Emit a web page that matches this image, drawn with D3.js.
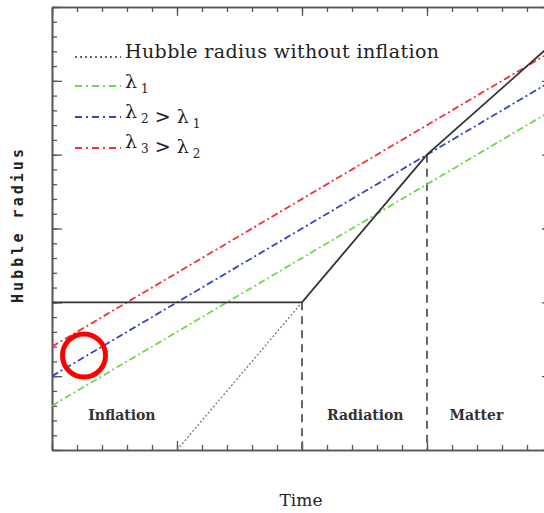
<!DOCTYPE html>
<html>
<head>
<meta charset="utf-8">
<script src="https://cdn.jsdelivr.net/npm/d3@7"></script>
<style>
  html, body { margin: 0; padding: 0; background: #fff; }
  svg { display: block; }
</style>
</head>
<body>
<div id="chart"></div>
<script>
// Log-time vs log-Hubble-radius sketch: three comoving wavelengths against the Hubble radius
const xDomain = [0, 20];
const yDomain = [0, 30];

// Hubble radius: constant during inflation, then radiation era, then matter era
const hubbleX = [0, 10, 15, 20];
const hubbleY = [10, 10, 20, 27.5];

// Hubble radius extrapolated back without inflation
const noInflationX = [5, 10];
const noInflationY = [0, 10];

// Wavelengths grow with slope 1; values at the two ends of the time axis
const waveX = [0, 20];
const lambda1 = [3, 23];
const lambda2 = [5, 25];
const lambda3 = [7, 27];

// Era boundaries (vertical dashed markers) and era names
const eraBoundaryX = [10, 15];
const eraBoundaryY = [10, 20];
const eraNames = ["Inflation", "Radiation", "Matter"];
const eraLabelX = [1.45, 11.0, 15.9];

// Highlighted point
const markX = [1.28];
const markY = [6.4];

const W = 544, H = 513;
const margin = { left: 52, right: -8, top: 7, bottom: 63 };

const svg = d3.select("#chart").append("svg")
  .attr("width", W).attr("height", H);

const x = d3.scaleLinear().domain(xDomain).range([margin.left, W - margin.right]);
const y = d3.scaleLinear().domain(yDomain).range([H - margin.bottom, margin.top]);

const axisColor = "#555";
const defs = svg.append("defs");
defs.append("clipPath").attr("id", "plot")
  .append("rect")
  .attr("x", x(xDomain[0])).attr("y", y(yDomain[1]))
  .attr("width", x(xDomain[1]) - x(xDomain[0]))
  .attr("height", y(yDomain[0]) - y(yDomain[1]));

// Axes with major and minor ticks on all four sides
function styleAxis(g) {
  g.selectAll("path").attr("stroke", axisColor).attr("stroke-width", 1.6);
  g.selectAll("line").attr("stroke", axisColor).attr("stroke-width", 1.3);
  g.selectAll("text").remove();
}
const xMinor = d3.range(0, 20.01, 1);
const xMajor = d3.range(0, 20.01, 5);
const yMinor = d3.range(0, 30.01, 1);
const yMajor = d3.range(0, 30.01, 5);

function addAxis(axisFn, scale, transform, minor, major, minorLen, majorLen) {
  svg.append("g").attr("transform", transform)
    .call(axisFn(scale).tickValues(minor).tickSize(-minorLen).tickSizeOuter(0))
    .call(styleAxis);
  svg.append("g").attr("transform", transform)
    .call(axisFn(scale).tickValues(major).tickSize(-majorLen).tickSizeOuter(0))
    .call(styleAxis);
}
addAxis(d3.axisBottom, x, `translate(0,${y(0)})`, xMinor, xMajor, 5, 9);
addAxis(d3.axisTop, x, `translate(0,${y(30)})`, xMinor, xMajor, 5, 9);
addAxis(d3.axisLeft, y, `translate(${x(0)},0)`, yMinor, yMajor, 5, 10);
addAxis(d3.axisRight, y, `translate(${x(20)},0)`, yMinor, yMajor, 5, 10);

const plot = svg.append("g").attr("clip-path", "url(#plot)");
const line = d3.line().x(d => x(d[0])).y(d => y(d[1]));

// Era boundary markers
eraBoundaryX.forEach((bx, i) => {
  plot.append("path")
    .attr("d", line([[bx, eraBoundaryY[i]], [bx, 0]]))
    .attr("fill", "none").attr("stroke", "#666")
    .attr("stroke-width", 2).attr("stroke-dasharray", "8,6");
});

// Wavelength lines
const dashDot = "7,3,2,3";
const waves = [
  { vals: lambda1, color: "#6fd84a" },
  { vals: lambda2, color: "#3445c0" },
  { vals: lambda3, color: "#f0303a" }
];
waves.forEach(w => {
  plot.append("path")
    .attr("d", line(waveX.map((xv, i) => [xv, w.vals[i]])))
    .attr("fill", "none").attr("stroke", w.color)
    .attr("stroke-width", 1.8).attr("stroke-dasharray", dashDot);
});

// Hubble radius without inflation
plot.append("path")
  .attr("d", line(noInflationX.map((xv, i) => [xv, noInflationY[i]])))
  .attr("fill", "none").attr("stroke", "#777")
  .attr("stroke-width", 1.3).attr("stroke-dasharray", "2,2");

// Hubble radius
plot.append("path")
  .attr("d", line(hubbleX.map((xv, i) => [xv, hubbleY[i]])))
  .attr("fill", "none").attr("stroke", "#333").attr("stroke-width", 1.8);

// Era names
const serif = "'DejaVu Serif', 'Liberation Serif', serif";
eraNames.forEach((name, i) => {
  svg.append("text")
    .attr("x", x(eraLabelX[i])).attr("y", y(2.0))
    .attr("font-family", serif).attr("font-size", 14)
    .attr("font-weight", "bold")
    .attr("fill", "#333")
    .text(name);
});

// Legend
const legend = svg.append("g");
const legendRows = [
  { dash: "2,3", color: "#333", width: 1.6, ty: 57 },
  { dash: "7,4,2,4", color: "#6fd84a", width: 1.8, ty: 86 },
  { dash: "7,4,2,4", color: "#3445c0", width: 1.8, ty: 117 },
  { dash: "7,4,2,4", color: "#f0303a", width: 1.8, ty: 148 }
];
legendRows.forEach(r => {
  legend.append("line")
    .attr("x1", 75).attr("x2", 121).attr("y1", r.ty).attr("y2", r.ty)
    .attr("stroke", r.color).attr("stroke-width", r.width)
    .attr("stroke-dasharray", r.dash);
});
function legendText(yPos) {
  return legend.append("text")
    .attr("x", 125).attr("y", yPos)
    .attr("font-family", serif)
    .attr("font-size", 19)
    .attr("fill", "#222");
}
legendText(58).text("Hubble radius without inflation").attr("textLength", 314);

function lambdaLabel(yPos, parts) {
  const t = legendText(yPos);
  parts.forEach(p => {
    if (p.sub) {
      t.append("tspan").attr("dx", 4).attr("dy", 5).attr("font-size", 12).text(p.sub);
      t.append("tspan").attr("dy", -5).text("");
    } else {
      t.append("tspan").text(p.text);
    }
  });
}
lambdaLabel(88, [{ text: "λ" }, { sub: "1" }]);
lambdaLabel(118, [{ text: "λ" }, { sub: "2" }, { text: " > λ" }, { sub: "1" }]);
lambdaLabel(148, [{ text: "λ" }, { sub: "3" }, { text: " > λ" }, { sub: "2" }]);

// Highlight ring
svg.append("circle")
  .attr("cx", x(markX[0])).attr("cy", y(markY[0])).attr("r", 21.5)
  .attr("fill", "none").attr("stroke", "#ff0000").attr("stroke-width", 5);

// Axis titles
svg.append("text")
  .attr("x", 301).attr("y", 506)
  .attr("text-anchor", "middle")
  .attr("font-family", serif).attr("font-size", 17)
  .attr("fill", "#222")
  .text("Time");

svg.append("text")
  .attr("transform", `translate(23,226) rotate(-90)`)
  .attr("text-anchor", "middle")
  .attr("font-family", "'DejaVu Sans Mono', 'Liberation Mono', monospace")
  .attr("font-size", 15).attr("font-weight", "bold")
  .attr("textLength", 154).attr("lengthAdjust", "spacing")
  .attr("fill", "#222")
  .text("Hubble radius");
</script>
</body>
</html>
